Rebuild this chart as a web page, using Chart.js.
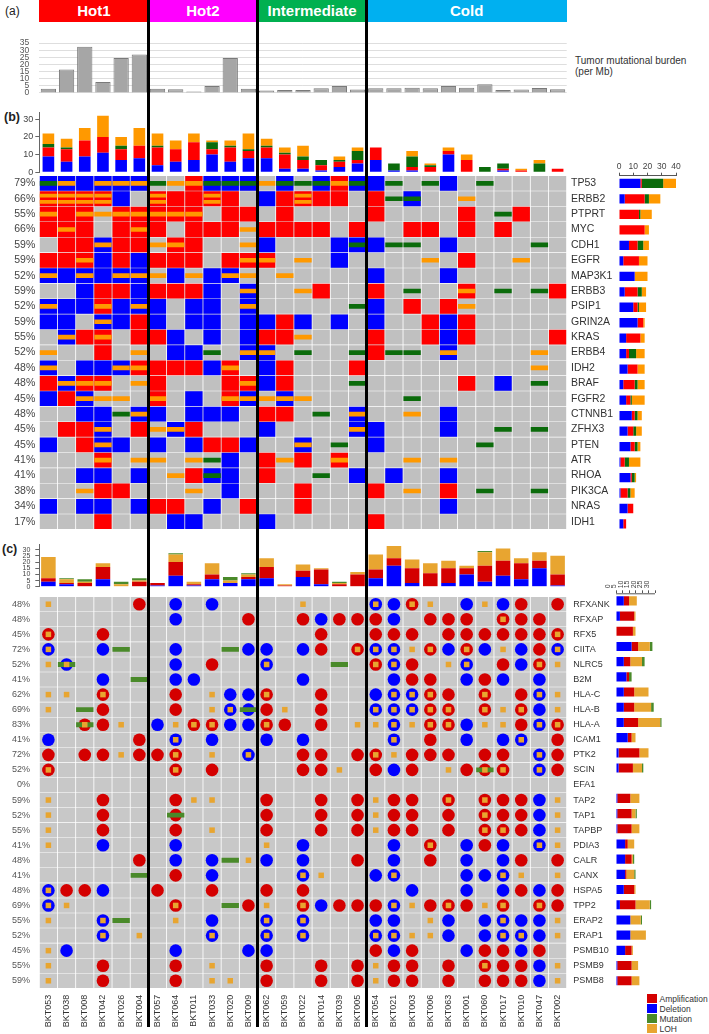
<!DOCTYPE html>
<html>
<head>
<meta charset="utf-8">
<script src="https://cdn.jsdelivr.net/npm/chart.js@4.4.1/dist/chart.umd.min.js"></script>
<style>
  html, body { margin: 0; padding: 0; background: #fff; }
  #page { position: relative; width: 709px; height: 1034px; overflow: hidden;
          font-family: Arial, "Liberation Sans", Helvetica, sans-serif; color: #333; }
  #page canvas { position: absolute; }
  .group { position: absolute; top: 0; height: 22px; line-height: 22px; color: #fff;
           font-weight: bold; font-size: 15px; text-align: center; }
  .sep { position: absolute; top: 0; width: 2.5px; height: 1027px; background: #000; z-index: 5; }
  .lbl { position: absolute; white-space: nowrap; line-height: 1; }
  .key { position: absolute; left: 647px; width: 10px; height: 9px; }
</style>
</head>
<body>
<div id="page"></div>
<script>
// ---- data ----
const samples = ['BKT053', 'BKT038', 'BKT008', 'BKT042', 'BKT026', 'BKT004',
  'BKT057', 'BKT064', 'BKT011', 'BKT033', 'BKT020', 'BKT009',
  'BKT062', 'BKT059', 'BKT022', 'BKT014', 'BKT039', 'BKT005',
  'BKT054', 'BKT021', 'BKT003', 'BKT006', 'BKT063', 'BKT001', 'BKT060', 'BKT017', 'BKT010', 'BKT047', 'BKT002'];
const groupNames = ['Hot1', 'Hot2', 'Intermediate', 'Cold'];
const groupSizes = [6, 6, 6, 11];

// (a) tumor mutational burden per Mb
const tmb = [3, 16.4, 32.4, 7.6, 24.6, 27, 3, 2.6, 0.9, 4.8, 24.6, 3,
  1.7, 2, 2, 3.2, 4.8, 2.4, 3.2, 3.2, 3.7, 3.3, 4.8, 3.7, 6.1, 2, 2.4, 3.5, 2.6];
const tmbTicks = [0, 5, 10, 15, 20, 25, 30, 35];

// (b) driver genes. codes: A amp, D del, L LOH band, W two LOH bands, M mutation
const genesB = ['TP53', 'ERBB2', 'PTPRT', 'MYC', 'CDH1', 'EGFR', 'MAP3K1', 'ERBB3', 'PSIP1', 'GRIN2A', 'KRAS', 'ERBB4',
  'IDH2', 'BRAF', 'FGFR2', 'CTNNB1', 'ZFHX3', 'PTEN', 'ATR', 'RHOA', 'PIK3CA', 'NRAS', 'IDH1'];
const pctB = ['79%', '66%', '55%', '66%', '59%', '59%', '52%', '59%', '52%', '59%', '55%', '52%',
  '48%', '48%', '45%', '48%', '45%', '45%', '41%', '41%', '38%', '34%', '17%'];
const altB = [
  '0DM 1DL 2D 3DL 4DL 5DL 6M 7L 8AL 9DM 10DM 11DM 12L 13DM 14M 15DM 16AL 17DM 18D 19M 21M 22D 24M',
  '0AW 1AW 2AW 3AW 4D 6AW 7A 8A 9AW 10A 12D 13A 14AW 15A 16A 18A 19M 20DM 23L',
  '0AL 1A 2AL 3L 4AL 5AL 6AL 7AL 8AL 10A 11A 13A 18A 23A 25M 26A',
  '0A 1AL 2A 4A 5AL 6A 8A 9A 10A 11L 12A 13A 14A 15A 17A 20A 21A 23A 25A',
  '1A 2A 3DL 4A 5A 6L 7AL 8A 11L 12D 16D 17DM 18D 19M 20M 22D 27M',
  '0A 1A 2AL 3D 4A 5D 6A 7A 8A 10A 11AL 12AL 14L 16D 21L 23A 26L',
  '0DL 1D 2DL 3D 4DL 5DL 6L 7D 8L 9D 10DL 11L 13L 18D 22D',
  '2D 3A 4A 5D 6A 7A 8A 9D 11DL 14L 15A 18A 20M 23AL 25M 27M 28A',
  '0DL 1D 2D 3AL 4D 5DL 6D 8D 9D 11DL 17M 18D 20A 22A 23L',
  '0D 1D 3DL 4D 5A 6D 8D 9D 11D 12D 13A 14D 16D 18D 21A 22D 23A',
  '1DL 2A 3AL 5A 6A 7D 9D 11D 12A 13A 14L 18A 21A 22D 23A 28A',
  '0L 3A 5L 7D 8D 9M 11DL 12DL 14M 17M 18A 19M 20M 22DL 27L',
  '0DL 2D 3D 4DL 5AL 6A 7A 8A 9D 10AL 12D 13A 17A 27L',
  '0A 1DL 2AL 3AL 5L 6A 10A 11AL 12D 13A 17M 23A 25D 27M',
  '0D 1A 2DL 3L 4L 6AL 8D 10AL 11DL 12L 13DL 14L 20M',
  '2D 3D 4M 5DL 6D 8D 9D 10D 12A 13A 15M 17DL 20L 22D',
  '1A 2A 3DL 5A 6L 7DL 8A 12D 17DL 18D 22D 25M 27M',
  '0D 2A 3DL 4D 6D 8D 9A 10A 11D 14DL 16M 18D 24M',
  '3AL 5L 6L 8L 9M 10D 12A 13L 14A 16AL 20L 22L',
  '2D 3D 5D 7L 8A 9DM 10D 12A 15M 17D 19D 22D',
  '2L 3A 4A 8L 10D 14A 18A 20L 22A 24M 27M',
  '0D 2D 3D 5D 6A 7A 9D 11A 14A 22D',
  '3A 7D 8D 12D 18A'
];
const topBlueB = [9, 6, 9, 11, 7, 8, 4, 6, 7, 10, 6, 8, 8, 2, 2, 1, 3, 5, 7, 1, 1, 0, 10, 0, 0, 1, 0, 0, 0];
const topRedB = [5, 7, 9, 9, 6, 7, 10, 7, 10, 3, 8, 4, 6, 8, 5, 3, 3, 2, 7, 0, 2, 3, 2, 7, 0, 1, 1, 0, 2];
const topGreenB = [2, 1, 0, 0, 2, 0, 1, 0, 0, 4, 1, 1, 1, 1, 2, 3, 1, 5, 0, 4, 6, 1, 0, 0, 3, 3, 0, 5, 0];
const topOrangeB = [6, 5, 7, 12, 5, 10, 7, 5, 5, 1, 3, 9, 4, 3, 6, 0, 2, 2, 0, 0, 3, 1, 2, 3, 0, 0, 1, 2, 0];
const topTicksB = [0, 10, 20, 30];
const sideBlueB = [15, 4, 0, 0, 7, 3, 11, 4, 10, 13, 5, 5, 6, 3, 5, 9, 6, 8, 1, 8, 1, 6, 3];
const sideRedB = [1, 14, 14, 18, 6, 11, 0, 9, 3, 4, 10, 2, 7, 8, 3, 2, 4, 3, 3, 1, 5, 4, 2];
const sideGreenB = [15, 3, 1, 0, 4, 0, 0, 3, 1, 0, 0, 5, 0, 2, 1, 2, 2, 2, 3, 2, 2, 0, 0];
const sideOrangeB = [9, 8, 8, 3, 4, 6, 9, 3, 5, 1, 3, 6, 5, 5, 9, 3, 4, 2, 8, 1, 3, 0, 0];
const sideTicksB = [0, 10, 20, 30, 40];

// (c) antigen presentation genes. codes: A amp circle, D del circle, L LOH square, M mutation band
const genesC = ['RFXANK', 'RFXAP', 'RFX5', 'CIITA', 'NLRC5', 'B2M', 'HLA-C', 'HLA-B', 'HLA-A', 'ICAM1', 'PTK2', 'SCIN', 'EFA1',
  'TAP2', 'TAP1', 'TAPBP', 'PDIA3', 'CALR', 'CANX', 'HSPA5', 'TPP2', 'ERAP2', 'ERAP1', 'PSMB10', 'PSMB9', 'PSMB8'];
const pctC = ['48%', '48%', '45%', '72%', '52%', '41%', '62%', '69%', '83%', '41%', '72%', '52%', '0%',
  '59%', '52%', '55%', '41%', '48%', '41%', '48%', '69%', '55%', '52%', '45%', '55%', '59%'];
const altC = [
  '0L 5A 7D 9D 14L 18DL 19D 20AL 21L 23D 24L 25D 26A 28A',
  '7D 11A 14A 15D 16A 17A 18A 19D 21A 22A 23A 25AL 26A 27A',
  '0AL 3A 15A 18A 19A 20A 22A 23A 24A 25A 26A 27A 28AL',
  '0DL 3D 4M 7D 10M 11D 12D 14D 15A 17AL 18DL 19DL 20L 21AL 22D 23AL 24D 25L 26D 27A 28DL',
  '0L 1DLM 7D 9A 12DL 16M 18AL 19DL 20A 22L 23DL 25A 26D 27AL 28L',
  '3D 5M 7D 8D 14D 19D 20A 21A 23D 24A 25D 27D',
  '0L 1L 3AL 7A 9L 10D 11D 12AL 15A 18D 19DL 20DL 21AL 22A 24AL 26A 27DL 28L',
  '0L 2M 3A 7A 9L 10DL 11DM 12A 13L 15A 18DL 19DL 20DL 21AL 22AL 24AL 25L 26AL 27D 28L',
  '2ALM 3A 4L 6D 7L 8AL 9AL 10D 11D 12AL 13A 15A 17L 18L 19DL 20L 21AL 22AL 23D 24L 25L 26A 27DL 28AL',
  '0D 5A 7DL 9D 12D 14D 19DL 21A 23D 25D 26DL 28A',
  '0A 2A 3A 4L 5A 6A 7AL 9L 11DL 14A 15A 17A 18AL 19L 20A 21A 22A 24A 25A 27DL 28A',
  '0AL 7AL 9A 14A 15A 16L 18A 19D 20A 22L 23A 24ALM 25AL 27DL 28A',
  '',
  '0L 3A 7A 8L 9L 12A 15A 17A 18L 19A 20A 22AL 24AL 25A 26A 27D 28L',
  '0L 3A 7AM 12A 15A 17A 18L 19A 20A 22A 24AL 25A 26A 27D 28L',
  '0L 3A 7A 9L 12A 15A 17A 18L 19A 20A 22A 24AL 25AL 26A 27D 28L',
  '0L 3D 7D 12L 14D 19D 21AL 23D 24A 25D 27DL 28L',
  '5A 7D 9D 10M 11L 12D 14D 17A 19D 21A 23D 25D 26A 28A',
  '5M 7A 9D 14DL 15L 18D 19DL 23D 24D 25DL 26L 28L',
  '0DL 1A 2A 3D 6A 9A 12A 14A 20D 23D 25D 26A 27D 28A',
  '0DL 1L 7AL 10M 11A 12L 14AL 15D 16A 17A 18A 19DL 20L 21A 22AL 23A 24L 25AL 27AL 28A',
  '0L 3DL 4M 7L 9D 12DL 14DL 18D 19D 21L 22D 24D 25DL 26D 27D 28L',
  '3DL 5L 9DL 12DL 14DL 18DL 19DL 20L 21L 22D 24D 25DL 26DL 27D 28L',
  '0L 1D 7D 11D 12D 18A 19D 20A 23D 24A 25A 26D 27A',
  '0L 3A 7A 9L 12A 15A 17A 18L 19A 20A 22A 24AL 25A 26A 27D 28L',
  '0L 3A 7A 9L 10L 12A 15A 17A 18L 19A 20A 22A 24A 25A 26A 27D 28L'
];
const topBlueC = [4, 2, 0, 6, 0, 0, 1, 9, 1, 6, 3, 6, 7, 0, 8, 2, 0, 0, 7, 17, 3, 0, 3, 10, 4, 9, 6, 15, 1];
const topRedC = [3, 1, 3, 10, 0, 4, 2, 11, 1, 4, 0, 2, 9, 1, 5, 12, 2, 10, 7, 6, 12, 11, 12, 5, 13, 12, 13, 6, 9];
const topLohC = [17, 3, 1, 3, 2, 1, 0, 6, 2, 9, 2, 2, 7, 1, 5, 1, 1, 2, 12, 10, 7, 8, 6, 2, 11, 10, 4, 7, 15];
const topMutC = [0, 1, 2, 0, 2, 2, 0, 1, 0, 0, 3, 1, 0, 0, 0, 0, 1, 0, 0, 0, 0, 0, 0, 0, 1, 0, 0, 0, 0];
const topTicksC = [0, 5, 10, 15, 20, 25, 30];
const sideBlueC = [6, 3, 0, 12, 6, 8, 6, 6, 6, 9, 2, 2, 0, 1, 1, 1, 7, 7, 7, 6, 3, 11, 11, 7, 1, 1];
const sideRedC = [4, 11, 13, 5, 5, 2, 8, 8, 11, 3, 16, 11, 0, 10, 11, 11, 2, 5, 1, 8, 12, 0, 0, 5, 11, 11];
const sideLohC = [6, 1, 2, 9, 9, 0, 11, 13, 17, 3, 7, 7, 0, 7, 3, 6, 5, 1, 6, 1, 11, 8, 12, 1, 5, 6];
const sideMutC = [0, 0, 0, 2, 2, 2, 0, 2, 1, 0, 0, 1, 0, 0, 1, 0, 0, 1, 1, 0, 1, 1, 0, 0, 0, 0];
const sideTicksC = [0, 5, 10, 15, 20, 25, 30];
const legendLabels = ['Amplification', 'Deletion', 'Mutation', 'LOH'];

// ---- styles and geometry ----
const FONT = 'Arial, "Liberation Sans", Helvetica, sans-serif';
const GROUP_COLORS = ['#ff0000', '#ff00ff', '#00b050', '#00b0f0'];
const COLORS_B = ['#0000ff', '#ff0000', '#0b6b0b', '#ff9900'];   // blue, red, green, orange
const GRAY_B = '#c0c0c0';
const RED_C = '#d40000', BLUE_C = '#0000ff', GREEN_C = '#4a8a2a', LOH_C = '#e8a530', GRAY_C = '#c8c8c8';
const W = 709;
const X0 = 39.3, X1 = 566.7;
const COLW = (X1 - X0) / 29;

const page = document.getElementById('page');

function addCanvas(x, y, w, h) {
  const c = document.createElement('canvas');
  c.width = w;
  c.height = h;
  c.style.left = x + 'px';
  c.style.top = y + 'px';
  page.appendChild(c);
  return c;
}

function addDiv(cls, text, css) {
  const d = document.createElement('div');
  d.className = cls;
  d.textContent = text;
  d.style.cssText = css;
  page.appendChild(d);
  return d;
}

const font = (size, weight) => ({ family: FONT, size, weight: weight || 'normal' });
const fixW = w => s => { s.width = w; };
const fixH = h => s => { s.height = h; };
const setTicks = list => s => { s.ticks = list.map(value => ({ value })); };

function baseOptions(padding, scales, extra) {
  return Object.assign({
    responsive: false,
    animation: false,
    devicePixelRatio: 1,
    events: [],
    layout: { padding },
    plugins: { legend: { display: false }, tooltip: { enabled: false } },
    scales
  }, extra || {});
}

function stackSets(arrays, colors, opts) {
  return arrays.map((d, i) => Object.assign({ data: d, backgroundColor: colors[i], borderWidth: 0 }, opts));
}

function parseAlts(row) {
  return row.split(' ').filter(Boolean).map(t => ({ col: parseInt(t, 10), code: t.replace(/^\d+/, '') }));
}

function cellSet(data, color, order) {
  return { type: 'bar', data, backgroundColor: color, grouped: false, barPercentage: 1, categoryPercentage: 1,
    maxBarThickness: COLW - 1.5, borderWidth: 0, order };
}

function pointSet(data, color, style, radius, order) {
  return { type: 'line', data, showLine: false, pointStyle: style, pointRadius: radius,
    pointBackgroundColor: color, pointBorderWidth: 0, borderWidth: 0, order, clip: false };
}

function rowAxis(labels, position, width, pad, size, color) {
  return {
    position, min: -0.5, max: labels.length - 0.5, reverse: true,
    afterBuildTicks: setTicks(labels.map((l, i) => i)),
    afterFit: fixW(width),
    ticks: { autoSkip: false, padding: pad, color, font: font(size), callback: v => labels[v] },
    grid: { display: false, drawTicks: false },
    border: { display: false }
  };
}

// ---- group header, separators, text ----
let start = 0;
groupNames.forEach((name, i) => {
  addDiv('group', name, `left:${X0 + start * COLW}px;width:${groupSizes[i] * COLW}px;background:${GROUP_COLORS[i]}`);
  start += groupSizes[i];
  if (i < groupNames.length - 1) addDiv('sep', '', `left:${X0 + start * COLW - 1.25}px`);
});
addDiv('lbl', '(a)', 'left:5px;top:5px;font-size:12px;color:#222');
addDiv('lbl', '(b)', 'left:4px;top:111px;font-size:12.5px;font-weight:bold;color:#222');
addDiv('lbl', '(c)', 'left:2px;top:543px;font-size:12.5px;font-weight:bold;color:#222');
addDiv('lbl', 'Tumor mutational burden', 'left:575px;top:56px;font-size:10px;color:#333');
addDiv('lbl', '(per Mb)', 'left:575px;top:67px;font-size:10px;color:#333');
[RED_C, BLUE_C, GREEN_C, LOH_C].forEach((c, i) => {
  addDiv('key', '', `top:${994 + i * 10}px;background:${c}`);
  addDiv('lbl', legendLabels[i], `left:659.5px;top:${994.5 + i * 10}px;font-size:8.5px;color:#333`);
});

// ---- (a) tumor mutational burden ----
new Chart(addCanvas(0, 28, W, 80), {
  type: 'bar',
  data: { labels: samples, datasets: [{ data: tmb, backgroundColor: '#a6a6a6', borderColor: '#7a7a7a',
    borderWidth: 1, barPercentage: 0.84, categoryPercentage: 1 }] },
  options: baseOptions({ left: 0, right: W - X1, top: 8, bottom: 9.3 }, {
    x: { display: false },
    y: { min: 0, max: 35, afterBuildTicks: setTicks(tmbTicks), afterFit: fixW(X0),
      ticks: { autoSkip: false, padding: 10, color: '#555', font: font(8.5) },
      grid: { color: '#dedede', drawTicks: false }, border: { display: false } }
  })
});

// ---- (b) alteration counts per sample ----
new Chart(addCanvas(0, 100, W, 80), {
  type: 'bar',
  data: { labels: samples, datasets: stackSets([topBlueB, topRedB, topGreenB, topOrangeB], COLORS_B,
    { barPercentage: 0.64, categoryPercentage: 1 }) },
  options: baseOptions({ left: 0, right: W - X1, top: 12.2, bottom: 7.7 }, {
    x: { display: false, stacked: true },
    y: { stacked: true, min: 0, max: 34, afterBuildTicks: setTicks(topTicksB), afterFit: fixW(X0),
      ticks: { autoSkip: false, padding: 2, color: '#444', font: font(9) },
      grid: { drawOnChartArea: false, tickLength: 4, color: '#666' }, border: { color: '#666' } }
  })
});

// ---- (b) oncoprint grid ----
const grayB = [], ampB = [], delB = [], lohB = [], mutB = [];
genesB.forEach((g, r) => {
  samples.forEach(x => grayB.push({ x, y: [r - 0.46, r + 0.46] }));
  parseAlts(altB[r]).forEach(({ col, code }) => {
    const x = samples[col];
    if (code.includes('A')) ampB.push({ x, y: [r - 0.46, r + 0.46] });
    if (code.includes('D')) delB.push({ x, y: [r - 0.46, r + 0.46] });
    if (code.includes('W')) {
      lohB.push({ x, y: [r - 0.3, r - 0.1] });
      lohB.push({ x, y: [r + 0.1, r + 0.3] });
    } else if (code.includes('L')) {
      lohB.push({ x, y: [r - 0.13, r + 0.13] });
    }
    if (code.includes('M')) mutB.push({ x, y: [r - 0.13, r + 0.13] });
  });
});

new Chart(addCanvas(0, 165, W, 375), {
  type: 'bar',
  data: { labels: samples, datasets: [
    cellSet(grayB, GRAY_B, 5), cellSet(ampB, COLORS_B[1], 4), cellSet(delB, COLORS_B[0], 4),
    cellSet(lohB, COLORS_B[3], 2), cellSet(mutB, COLORS_B[2], 2)
  ] },
  options: baseOptions({ left: 0, right: 0, top: 10.7, bottom: 8.3 }, {
    x: { display: false, offset: true },
    y: rowAxis(pctB, 'left', X0, 4, 10.5, '#444'),
    y2: rowAxis(genesB, 'right', W - X1, 4.3, 10.5, '#333')
  })
});

// ---- (b) alteration counts per gene ----
new Chart(addCanvas(560, 150, 149, 390), {
  type: 'bar',
  data: { labels: genesB, datasets: stackSets([sideBlueB, sideRedB, sideGreenB, sideOrangeB], COLORS_B,
    { barPercentage: 0.6, categoryPercentage: 1 }) },
  options: baseOptions({ left: 59, right: 33, top: 5.7, bottom: 8.3 }, {
    x: { position: 'top', stacked: true, min: 0, max: 40, afterBuildTicks: setTicks(sideTicksB), afterFit: fixH(20),
      ticks: { autoSkip: false, padding: 1, maxRotation: 0, color: '#444', font: font(8.5) },
      grid: { drawOnChartArea: false, tickLength: 3, color: '#555' }, border: { color: '#555' } },
    y: { stacked: true, display: false }
  }, { indexAxis: 'y' })
});

// ---- (c) alteration counts per sample ----
new Chart(addCanvas(0, 532, W, 64), {
  type: 'bar',
  data: { labels: samples, datasets: stackSets([topBlueC, topRedC, topLohC, topMutC], [BLUE_C, RED_C, LOH_C, GREEN_C],
    { barPercentage: 0.8, categoryPercentage: 1 }) },
  options: baseOptions({ left: 0, right: W - X1, top: 12.7, bottom: 6 }, {
    x: { display: false, stacked: true },
    y: { stacked: true, min: 0, max: 34, afterBuildTicks: setTicks(topTicksC), afterFit: fixW(X0),
      ticks: { autoSkip: false, padding: 5, color: '#444', font: font(7) },
      grid: { drawOnChartArea: false, tickLength: 4, color: '#666' }, border: { color: '#666' } }
  })
});

// ---- (c) grid with circles ----
const grayC = [], ampC = [], delC = [], lohC = [], mutC = [];
genesC.forEach((g, r) => {
  samples.forEach(x => grayC.push({ x, y: [r - 0.46, r + 0.46] }));
  parseAlts(altC[r]).forEach(({ col, code }) => {
    const x = samples[col];
    if (code.includes('A')) ampC.push({ x, y: r });
    if (code.includes('D')) delC.push({ x, y: r });
    if (code.includes('M')) mutC.push({ x, y: [r - 0.14, r + 0.14] });
    if (code.includes('L')) lohC.push({ x, y: r });
  });
});

new Chart(addCanvas(0, 582, W, 452), {
  type: 'bar',
  data: { labels: samples, datasets: [
    cellSet(grayC, GRAY_C, 6),
    pointSet(ampC, RED_C, 'circle', 6.3, 5),
    pointSet(delC, BLUE_C, 'circle', 6.3, 5),
    cellSet(mutC, GREEN_C, 3),
    pointSet(lohC, LOH_C, 'rect', 3.9, 2)
  ] },
  options: baseOptions({ left: 0, right: 0, top: 11.3, bottom: 0 }, {
    x: { offset: true, position: 'bottom', afterFit: fixH(45.7),
      ticks: { autoSkip: false, minRotation: 90, maxRotation: 90, padding: 6.5, color: '#333', font: font(9) },
      grid: { display: false, drawTicks: false }, border: { display: false } },
    y: rowAxis(pctC, 'left', X0, 9.3, 9, '#555'),
    y2: rowAxis(genesC, 'right', W - X1, 6.6, 9, '#333')
  })
});

// ---- (c) alteration counts per gene ----
const axisTo30 = {
  id: 'axisTo30',
  afterDraw(chart) {
    const s = chart.scales.x;
    const ctx = chart.ctx;
    ctx.save();
    ctx.strokeStyle = '#555';
    ctx.lineWidth = 1;
    ctx.beginPath();
    ctx.moveTo(s.getPixelForValue(0), s.bottom + 0.5);
    ctx.lineTo(s.getPixelForValue(sideTicksC[sideTicksC.length - 1]), s.bottom + 0.5);
    ctx.stroke();
    ctx.restore();
  }
};

new Chart(addCanvas(560, 560, 149, 440), {
  type: 'bar',
  data: { labels: genesC, datasets: stackSets([sideBlueC, sideRedC, sideLohC, sideMutC], [BLUE_C, RED_C, LOH_C, GREEN_C],
    { barPercentage: 0.6, categoryPercentage: 1 }) },
  options: baseOptions({ left: 56, right: 46.2, top: 13.3, bottom: 11.7 }, {
    x: { position: 'top', stacked: true, min: 0, max: 36, afterBuildTicks: setTicks(sideTicksC), afterFit: fixH(20),
      ticks: { autoSkip: false, padding: 2, minRotation: 90, maxRotation: 90, color: '#444', font: font(7) },
      grid: { drawOnChartArea: false, tickLength: 3, color: '#555' }, border: { display: false } },
    y: { stacked: true, display: false }
  }, { indexAxis: 'y' }),
  plugins: [axisTo30]
});
</script>
</body>
</html>
